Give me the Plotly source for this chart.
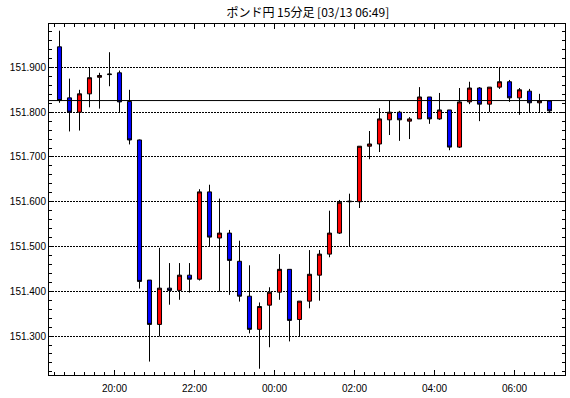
import pandas as pd
import plotly.graph_objects as go

# ---- data ----
start_time = "2024-03-12 18:30"
n_candles = 50
times = pd.date_range(start_time, periods=n_candles, freq="15min")

opens = [151.946, 151.832, 151.800, 151.841, 151.878, 151.884, 151.888, 151.824, 151.738, 151.425,
         151.326, 151.407, 151.402, 151.436, 151.427, 151.622, 151.519, 151.530, 151.467, 151.389,
         151.315, 151.369, 151.398, 151.449, 151.337, 151.378, 151.436, 151.483, 151.530, 151.600,
         151.600, 151.724, 151.729, 151.783, 151.800, 151.780, 151.785, 151.834, 151.785, 151.805,
         151.722, 151.823, 151.854, 151.818, 151.856, 151.868, 151.832, 151.847, 151.821, 151.825]
highs = [151.982, 151.875, 151.850, 151.899, 151.888, 151.934, 151.893, 151.850, 151.739, 151.425,
         151.497, 151.463, 151.463, 151.463, 151.628, 151.638, 151.607, 151.537, 151.513, 151.458,
         151.375, 151.409, 151.483, 151.449, 151.378, 151.492, 151.492, 151.580, 151.604, 151.618,
         151.724, 151.758, 151.809, 151.825, 151.803, 151.789, 151.856, 151.834, 151.843, 151.805,
         151.854, 151.868, 151.856, 151.856, 151.901, 151.872, 151.854, 151.852, 151.841, 151.825]
lows = [151.821, 151.757, 151.759, 151.811, 151.808, 151.858, 151.800, 151.728, 151.406, 151.243,
        151.299, 151.370, 151.381, 151.397, 151.424, 151.501, 151.399, 151.392, 151.377, 151.306,
        151.227, 151.275, 151.381, 151.288, 151.299, 151.362, 151.379, 151.476, 151.528, 151.501,
        151.586, 151.695, 151.711, 151.749, 151.736, 151.740, 151.785, 151.774, 151.783, 151.715,
        151.720, 151.818, 151.780, 151.800, 151.852, 151.823, 151.794, 151.800, 151.800, 151.798]
closes = [151.826, 151.800, 151.841, 151.877, 151.882, 151.885, 151.823, 151.738, 151.422, 151.326,
          151.407, 151.402, 151.436, 151.427, 151.622, 151.521, 151.530, 151.469, 151.389, 151.315,
          151.366, 151.398, 151.449, 151.335, 151.378, 151.438, 151.483, 151.530, 151.599, 151.601,
          151.724, 151.729, 151.785, 151.800, 151.783, 151.785, 151.834, 151.785, 151.805, 151.722,
          151.823, 151.854, 151.818, 151.856, 151.868, 151.832, 151.850, 151.821, 151.825, 151.803]

ref_price = 151.826
y_range = [151.213, 151.997]
x_range = ["2024-03-12 18:21:45", "2024-03-13 07:15:45"]
title_text = "ポンド円 15分足 [03/13 06:49]"

# ---- figure ----
fig = go.Figure()
fig.add_trace(go.Candlestick(
    x=times, open=opens, high=highs, low=lows, close=closes,
    xperiod=15 * 60 * 1000, xperiodalignment="middle",
    increasing=dict(fillcolor="#ff0000", line=dict(color="black", width=1)),
    decreasing=dict(fillcolor="#0000ff", line=dict(color="black", width=1)),
    whiskerwidth=0, showlegend=False, hoverinfo="skip",
))

fig.add_hline(y=ref_price, line=dict(color="black", width=1))

axis_font = dict(family="Liberation Sans, Arial, sans-serif", size=10, color="black")

fig.update_layout(
    width=570, height=398,
    margin=dict(l=49, r=5, t=24, b=23),
    paper_bgcolor="white", plot_bgcolor="white",
    boxgap=0.42,
    title=dict(text=title_text, x=0.54, xanchor="center", y=0.967, yanchor="middle",
               font=dict(family="Noto Sans CJK JP, sans-serif", size=12, color="black")),
    xaxis=dict(
        type="date", range=x_range, rangeslider=dict(visible=False), automargin=False,
        tickformat="%H:%M", dtick=2 * 3600 * 1000, tick0="2024-03-12 20:00",
        ticks="inside", ticklen=5, tickcolor="black", tickwidth=1,
        minor=dict(dtick=15 * 60 * 1000, tick0="2024-03-12 20:00", ticks="inside",
                   ticklen=3, tickcolor="black", tickwidth=1, showgrid=False),
        showline=True, linecolor="black", linewidth=1, mirror="allticks",
        showgrid=False, zeroline=False, tickfont=axis_font, ticklabelstandoff=4,
    ),
    yaxis=dict(
        range=y_range, tickformat=".3f", dtick=0.1, tick0=151.3, automargin=False,
        ticks="inside", ticklen=4, tickcolor="black", tickwidth=1,
        minor=dict(dtick=0.02, tick0=151.3, ticks="inside", ticklen=3,
                   tickcolor="black", tickwidth=1, showgrid=False),
        showline=True, linecolor="black", linewidth=1, mirror="allticks",
        showgrid=True, gridcolor="black", gridwidth=1, griddash="2px,1px",
        zeroline=False, tickfont=axis_font,
    ),
)

fig.write_html("out.html", config={"displayModeBar": False, "staticPlot": True},
               post_script="document.body.style.margin='0';")
